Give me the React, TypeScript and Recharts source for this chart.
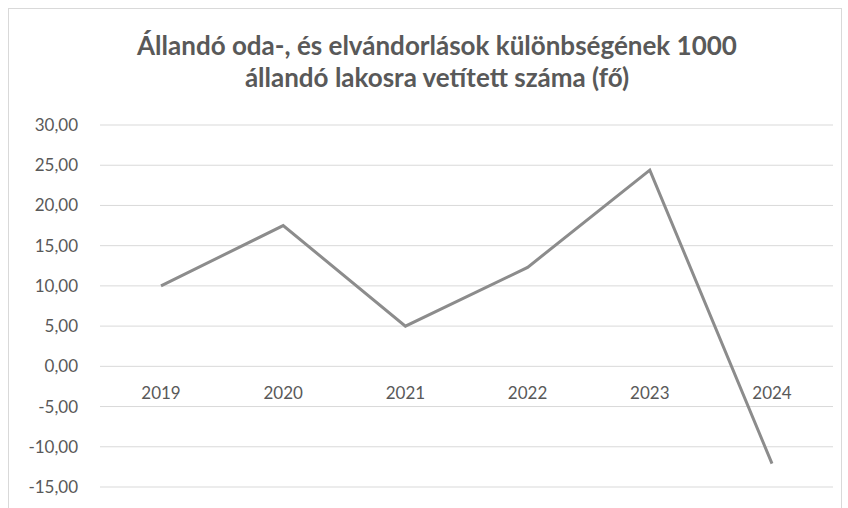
import { LineChart, Line, XAxis, YAxis, CartesianGrid, ReferenceDot } from "recharts";

const years = ["2019", "2020", "2021", "2022", "2023", "2024"];
const values = [10.0, 17.5, 5.0, 12.3, 24.4, -12.1];
const yTicks = [-15, -10, -5, 0, 5, 10, 15, 20, 25, 30];

const titleLines = [
  "Állandó oda-, és elvándorlások különbségének 1000",
  "állandó lakosra vetített száma (fő)",
];

const data = years.map((year, i) => ({ year, value: values[i] }));

const fmt = (v: number) => v.toFixed(2).replace(".", ",");

const FONT = "Lato, 'Open Sans', sans-serif";
const TEXT = "#595959";

export default function App() {
  return (
    <div style={{ position: "absolute", left: 0, top: 0, width: 848, height: 508, background: "#fff", overflow: "hidden", fontFamily: FONT }}>
      {/* chart area frame */}
      <div style={{ position: "absolute", left: 8, top: 8, width: 832, height: 520, border: "1px solid #d9d9d9" }} />
      <div style={{ position: "absolute", left: 0, top: 29, width: 874, textAlign: "center", color: TEXT, fontWeight: 700, fontSize: 26, lineHeight: "32px" }}>
        {titleLines.map((t) => (
          <div key={t}>{t}</div>
        ))}
      </div>
      <LineChart width={848} height={508} data={data} margin={{ top: 125, right: 15, left: 0, bottom: 21 }} style={{ position: "absolute", left: 0, top: 0 }}>
        <CartesianGrid vertical={false} stroke="#d9d9d9" strokeWidth={1} />
        <XAxis dataKey="year" padding={{ left: 61, right: 61 }} axisLine={false} tickLine={false} tick={false} height={0} />
        <YAxis
          domain={[-15, 30]}
          ticks={yTicks}
          width={100}
          axisLine={false}
          tickLine={false}
          tickSize={0}
          tickMargin={22}
          tickFormatter={fmt}
          tick={{ fill: TEXT, fontSize: 17, fontFamily: FONT }}
          interval={0}
        />
        {years.map((y) => (
          <ReferenceDot
            key={y}
            x={y}
            y={0}
            r={0}
            fill="none"
            stroke="none"
            label={{ value: y, position: "bottom", offset: 21, fill: TEXT, fontSize: 17, fontFamily: FONT }}
          />
        ))}
        <Line type="linear" dataKey="value" stroke="#8c8c8c" strokeWidth={3} dot={false} isAnimationActive={false} />
      </LineChart>
    </div>
  );
}
